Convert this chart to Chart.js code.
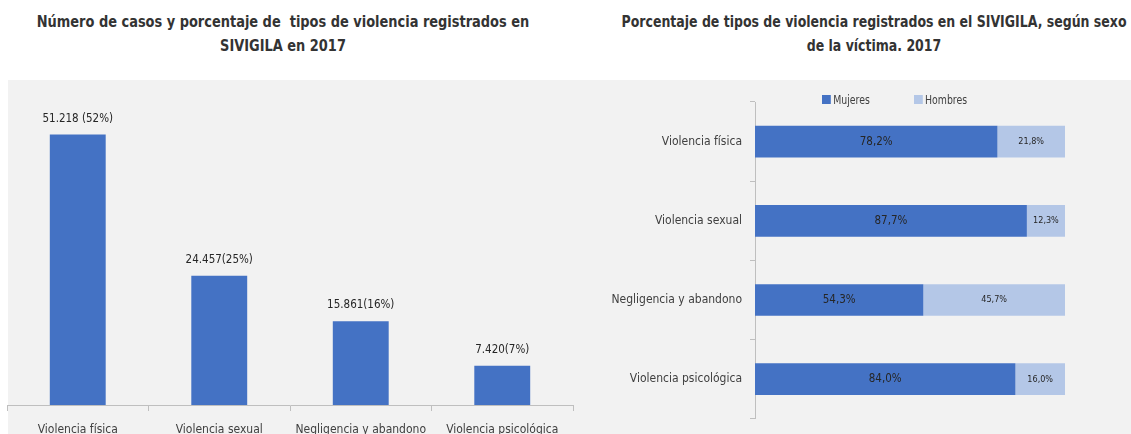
<!DOCTYPE html>
<html lang="es">
<head>
<meta charset="utf-8">
<title>Tipos de violencia SIVIGILA 2017</title>
<script src="https://cdn.jsdelivr.net/npm/chart.js@4.4.1/dist/chart.umd.min.js"></script>
<style>
    body {
        margin: 0;
        width: 1131px;
        height: 434px;
        overflow: hidden;
        position: relative;
        background: #fff;
        font-family: "DejaVu Sans Condensed", "Liberation Sans", sans-serif;
    }
    .panel { position: absolute; left: 8px; top: 80px; width: 1123px; height: 354px; background: #f2f2f2; }
    .title {
        position: absolute; top: 10px; text-align: center; font-weight: bold; font-size: 16px;
        line-height: 24px; color: #333; white-space: nowrap; transform-origin: center top;
    }
    #leftTitle { left: -40px; width: 646px; transform: scaleX(0.9); }
    #rightTitle { left: 560px; width: 628px; transform: scaleX(0.87); }
    #leftChart { position: absolute; left: 0; top: 80px; }
    #rightChart { position: absolute; left: 580px; top: 80px; }
    #sexLegend {
        position: absolute; left: 822px; top: 92px; font-size: 13px; color: #404040; display: flex;
        transform: scaleX(0.8); transform-origin: left top;
    }
    #sexLegend span.item { display: flex; align-items: center; margin-right: 55px; }
    #sexLegend span.box { width: 11px; height: 9px; margin-right: 3px; display: inline-block; }
</style>
</head>
<body>
<div class="panel"></div>
<div class="title" id="leftTitle">Número de casos y porcentaje de&nbsp; tipos de violencia registrados en<br>SIVIGILA en 2017</div>
<div class="title" id="rightTitle">Porcentaje de tipos de violencia registrados en el SIVIGILA, según sexo<br>de la víctima. 2017</div>
<canvas id="leftChart" width="580" height="370"></canvas>
<canvas id="rightChart" width="551" height="354"></canvas>
<div id="sexLegend"></div>

<script>
const tipos = ['Violencia física', 'Violencia sexual', 'Negligencia y abandono', 'Violencia psicológica'];
const casos = [51218, 24457, 15861, 7420];
const casosTexto = ['51.218 (52%)', '24.457(25%)', '15.861(16%)', '7.420(7%)'];
const mujeres = [78.2, 87.7, 54.3, 84.0];
const hombres = [21.8, 12.3, 45.7, 16.0];
const mujeresTexto = ['78,2%', '87,7%', '54,3%', '84,0%'];
const hombresTexto = ['21,8%', '12,3%', '45,7%', '16,0%'];

const FONT = '"DejaVu Sans Condensed", "Liberation Sans", sans-serif';
const AZUL = '#4472C4';
const AZUL_CLARO = '#B4C7E7';
const EJE = '#bfbfbf';

Chart.defaults.font.family = FONT;
Chart.defaults.color = '#404040';

// draws the value text on each bar, above it or centred inside it
const barLabels = {
    id: 'barLabels',
    afterDatasetsDraw(chart) {
        const ctx = chart.ctx;
        chart.data.datasets.forEach((ds, i) => {
            if (!ds.labelTexts) return;
            const meta = chart.getDatasetMeta(i);
            ctx.save();
            ctx.font = ds.labelSize + 'px ' + FONT;
            ctx.fillStyle = '#262626';
            ctx.textAlign = 'center';
            meta.data.forEach((bar, j) => {
                if (ds.labelPos === 'top') {
                    ctx.textBaseline = 'bottom';
                    ctx.fillText(ds.labelTexts[j], bar.x, bar.y - 10);
                } else {
                    ctx.textBaseline = 'middle';
                    ctx.fillText(ds.labelTexts[j], (bar.x + bar.base) / 2, bar.y);
                }
            });
            ctx.restore();
        });
    }
};

new Chart(document.getElementById('leftChart'), {
    type: 'bar',
    data: {
        labels: tipos,
        datasets: [{
            label: 'Casos',
            data: casos,
            backgroundColor: AZUL,
            categoryPercentage: 1,
            barPercentage: 0.395,
            labelTexts: casosTexto,
            labelPos: 'top',
            labelSize: 11.5
        }]
    },
    options: {
        responsive: false,
        animation: false,
        layout: { padding: { left: 7, right: 7, top: 8, bottom: 0 } },
        plugins: { legend: { display: false }, tooltip: { enabled: false } },
        scales: {
            y: { display: false, min: 0, max: 60000 },
            x: {
                grid: { offset: true, drawOnChartArea: false, tickLength: 6, color: EJE },
                border: { color: EJE },
                ticks: { padding: 12, font: { size: 12 }, color: '#404040', maxRotation: 0, autoSkip: false },
                afterFit: scale => { scale.height = 45; }
            }
        }
    },
    plugins: [barLabels]
});

const sexoChart = new Chart(document.getElementById('rightChart'), {
    type: 'bar',
    data: {
        labels: tipos,
        datasets: [
            {
                label: 'Mujeres',
                data: mujeres,
                backgroundColor: AZUL,
                categoryPercentage: 1,
                barPercentage: 0.4,
                labelTexts: mujeresTexto,
                labelPos: 'center',
                labelSize: 11.5
            },
            {
                label: 'Hombres',
                data: hombres,
                backgroundColor: AZUL_CLARO,
                categoryPercentage: 1,
                barPercentage: 0.4,
                labelTexts: hombresTexto,
                labelPos: 'center',
                labelSize: 9
            }
        ]
    },
    options: {
        indexAxis: 'y',
        responsive: false,
        animation: false,
        layout: { padding: { left: 0, right: 66, top: 22, bottom: 14 } },
        plugins: { legend: { display: false }, tooltip: { enabled: false } },
        scales: {
            x: { display: false, stacked: true, min: 0, max: 100 },
            y: {
                stacked: true,
                grid: { offset: true, drawOnChartArea: false, tickLength: 5, color: EJE },
                border: { color: EJE },
                ticks: { padding: 8, font: { size: 12 }, color: '#404040', autoSkip: false },
                afterFit: scale => { scale.width = 175; }
            }
        }
    },
    plugins: [barLabels]
});

// html legend built from the chart's datasets
const legendDiv = document.getElementById('sexLegend');
sexoChart.data.datasets.forEach(ds => {
    const item = document.createElement('span');
    item.className = 'item';
    const box = document.createElement('span');
    box.className = 'box';
    box.style.background = ds.backgroundColor;
    item.appendChild(box);
    item.appendChild(document.createTextNode(ds.label));
    legendDiv.appendChild(item);
});
</script>
</body>
</html>
